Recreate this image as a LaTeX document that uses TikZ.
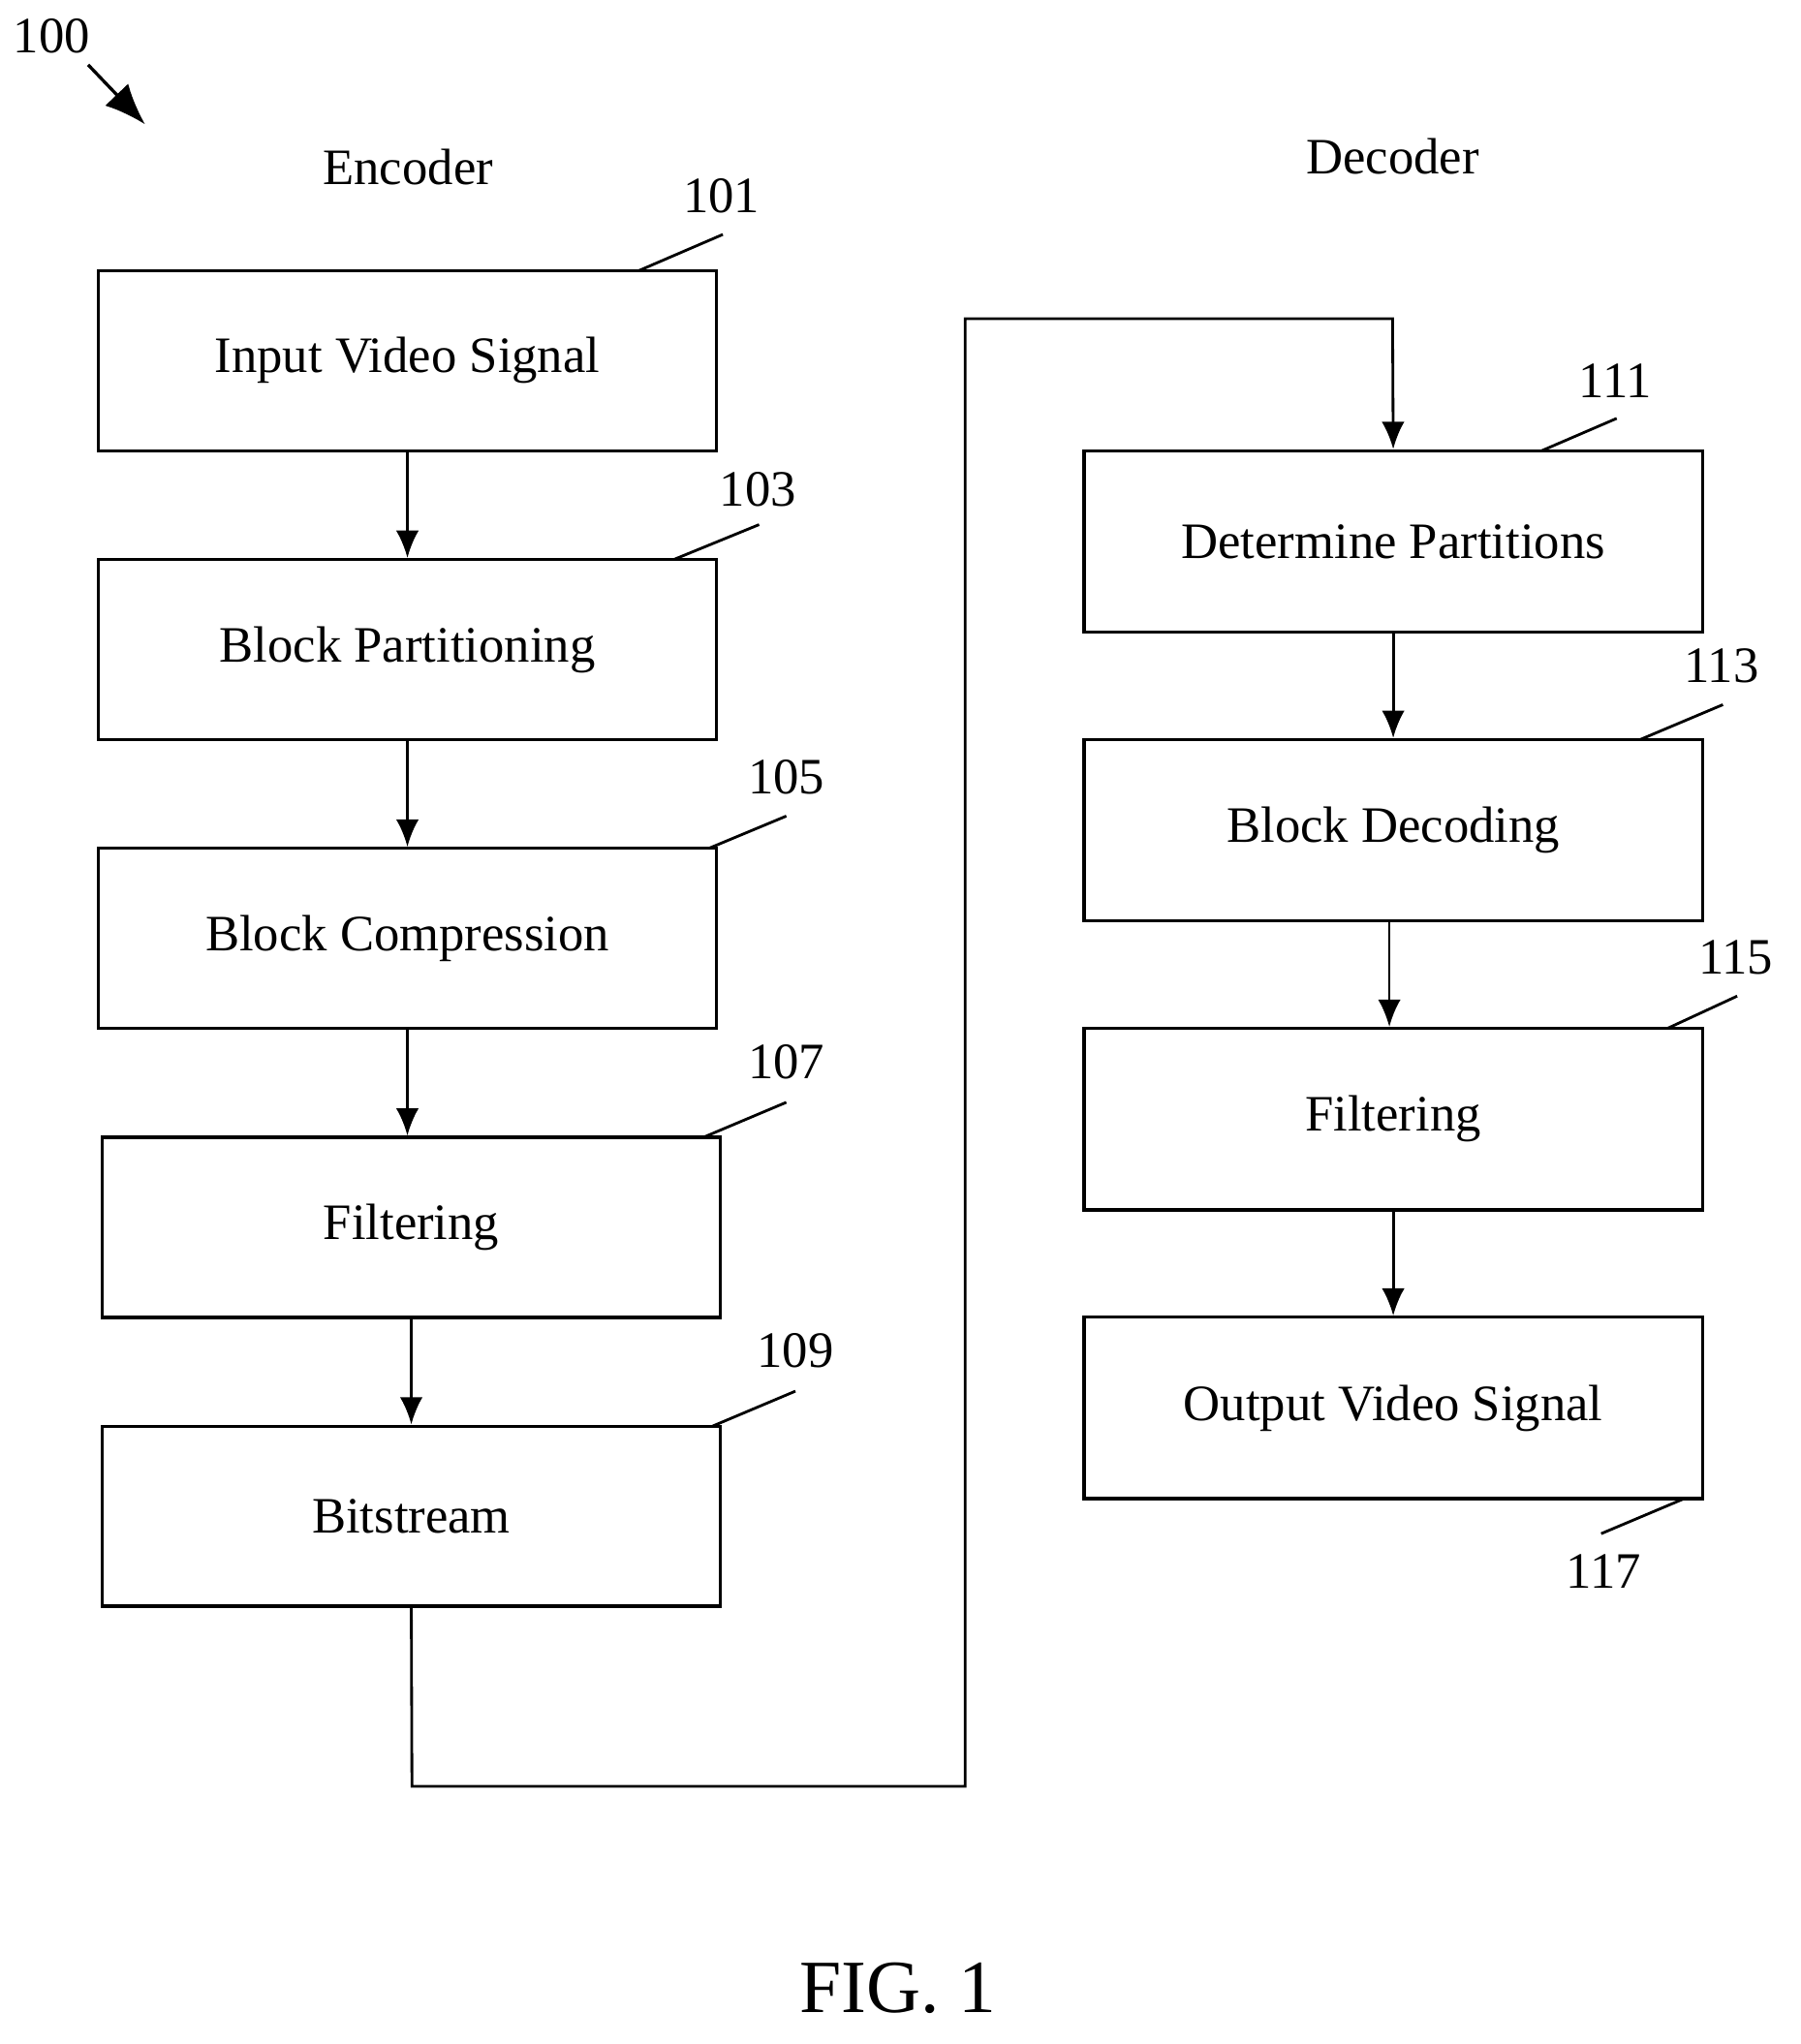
\documentclass[tikz,border=0pt]{standalone}
\usepackage{fontspec}
\setmainfont{Liberation Serif}
\usetikzlibrary{arrows.meta}
\begin{document}
\begin{tikzpicture}[x=0.01cm,y=-0.01cm,
  box/.style={draw,line width=0.7pt,minimum width=4.77cm,minimum height=1.39cm,inner sep=0pt,font=\fontsize{11.2}{13}\selectfont},
  lbl/.style={font=\fontsize{11.2}{13}\selectfont,inner sep=0pt},
  arr/.style={-{Latex[length=6pt,width=5pt]},line width=0.6pt},
  ld/.style={line width=0.6pt}]
\useasboundingbox (0,0) rectangle (1390,1578);
\node[box] (b101) at (314.5,278.5) {Input Video Signal};
\node[box] (b103) at (314.5,501.5) {Block Partitioning};
\node[box] (b105) at (314.5,724.5) {Block Compression};
\node[box] (b107) at (317.5,947.5) {Filtering};
\node[box] (b109) at (317.5,1170.5) {Bitstream};
\node[box,minimum height=1.40cm] (b111) at (1075.5,418) {Determine Partitions};
\node[box,minimum height=1.40cm] (b113) at (1075.5,641) {Block Decoding};
\node[box,minimum height=1.40cm] (b115) at (1075.5,864) {Filtering};
\node[box,minimum height=1.40cm] (b117) at (1075.5,1087) {Output Video Signal};
\draw[arr] (b101) -- (b103);
\draw[arr] (b103) -- (b105);
\draw[arr] (b105.south) -- (b105.south|-b107.north);
\draw[arr] (b107) -- (b109);
\draw[arr] (b111) -- (b113);
\draw[arr] ([xshift=-0.03cm]b113.south) -- ([xshift=-0.03cm]b115.north);
\draw[arr] (b115) -- (b117);
\coordinate (c1) at (318,1379);
\coordinate (c2) at (745,1379);
\coordinate (c3) at (745,246);
\coordinate (c4) at (1075,246);
\draw[arr] (b109.south) -- (c1) -- (c2) -- (c3) -- (c4) -- (b111.north);
% labels
\node[lbl] (l101) at (557,151) {101}; \draw[ld] (493,209) -- (558,181);
\node[lbl] (l103) at (585,378) {103}; \draw[ld] (520,432) -- (586,405);
\node[lbl] (l105) at (607,600) {105}; \draw[ld] (547,655) -- (607,630);
\node[lbl] (l107) at (607,820) {107}; \draw[ld] (543,878) -- (607,851);
\node[lbl] (l109) at (614,1043) {109}; \draw[ld] (550,1101) -- (614,1074);
\node[lbl] (l111) at (1247,294) {111}; \draw[ld] (1190,348) -- (1248,323);
\node[lbl] (l113) at (1329,514) {113}; \draw[ld] (1266,571) -- (1330,544);
\node[lbl] (l115) at (1340,739) {115}; \draw[ld] (1287,794) -- (1341,769);
\node[lbl] (l117) at (1238,1213) {117}; \draw[ld] (1236,1184) -- (1300,1157);
\node[lbl] (l100) at (40,28) {100};
\coordinate (a0) at (68,50); \coordinate (a1) at (112,96);
\draw[-{Latex[length=9pt,width=7pt]},line width=0.7pt] (a0) -- (a1);
\node[lbl] (enc) at (315,129) {Encoder};
\node[lbl] (dec) at (1075,121) {Decoder};
\node[inner sep=0pt,font=\fontsize{16.5}{19}\selectfont] (fig) at (693,1535) {FIG. 1};
\end{tikzpicture}
\end{document}
